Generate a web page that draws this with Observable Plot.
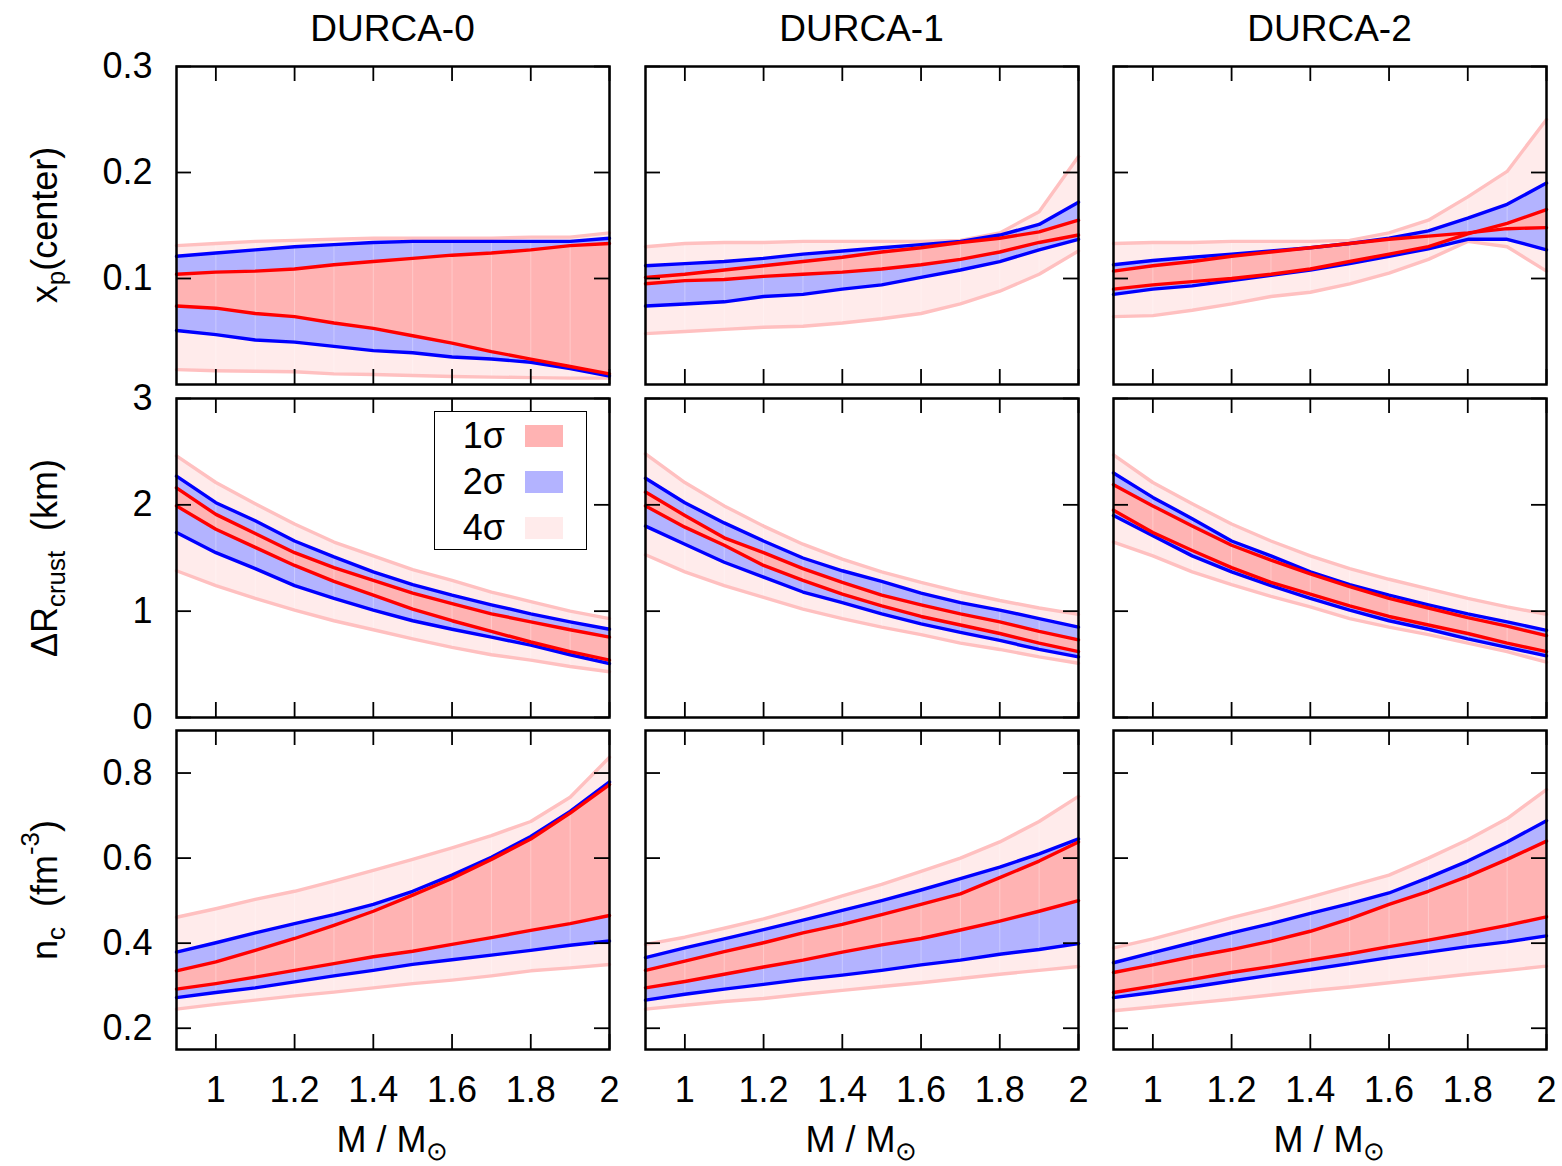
<!DOCTYPE html>
<html>
<head>
<meta charset="utf-8">
<script src="https://cdn.jsdelivr.net/npm/d3@7"></script>
<script src="https://cdn.jsdelivr.net/npm/@observablehq/plot@0.6"></script>
<style>
  html, body { margin: 0; padding: 0; background: #fff; }
  #fig { position: relative; width: 1562px; height: 1166px; overflow: hidden;
         font-family: "Liberation Sans", Arial, Helvetica, sans-serif; color: #000; }
  .panel { position: absolute; }
  .panel svg { overflow: visible; display: block; }
  .lbl { position: absolute; white-space: pre; line-height: 1; font-size: 36px;
         transform: translate(-50%, -50%); }
  .title { font-size: 37px; }
  .ylab { transform: translate(-50%, -50%) rotate(-90deg); }
  .lbl sub, .lbl sup { font-size: 0.72em; line-height: 0; }
  .lbl sub { vertical-align: -0.3em; }
  .lbl sup { vertical-align: 0.7em; }
  .legend { position: absolute; background: #fff; border: 1.5px solid #000; box-sizing: border-box; }
  .legend .t { position: absolute; font-size: 36px; line-height: 1; transform: translate(-100%, -50%); white-space: pre; }
  .legend .sw { position: absolute; }
</style>
</head>
<body>
<div id="fig"></div>
<script>
// Stellar mass grid (solar masses)
const mass = [0.9, 1.0, 1.1, 1.2, 1.3, 1.4, 1.5, 1.6, 1.7, 1.8, 1.9, 2.0];

// Model names and tick values
const models = ["DURCA-0", "DURCA-1", "DURCA-2"];
const massTicks = [1, 1.2, 1.4, 1.6, 1.8, 2];
const xpTicks = [0.1, 0.2, 0.3];
const drTicks = [0, 1, 2, 3];
const ncTicks = [0.2, 0.4, 0.6, 0.8];
const sigmaLabels = ["1σ", "2σ", "4σ"];

// Central proton fraction x_p, DURCA-0: 4σ / 2σ / 1σ bounds
const xp0_4hi = [0.131, 0.133, 0.135, 0.136, 0.137, 0.138, 0.138, 0.138, 0.138, 0.139, 0.139, 0.143];
const xp0_2hi = [0.121, 0.124, 0.127, 0.130, 0.132, 0.134, 0.135, 0.135, 0.135, 0.135, 0.135, 0.138];
const xp0_1hi = [0.104, 0.106, 0.107, 0.109, 0.113, 0.116, 0.119, 0.122, 0.124, 0.127, 0.131, 0.133];
const xp0_1lo = [0.074, 0.072, 0.067, 0.064, 0.058, 0.053, 0.046, 0.039, 0.031, 0.024, 0.017, 0.010];
const xp0_2lo = [0.051, 0.047, 0.042, 0.040, 0.036, 0.032, 0.030, 0.026, 0.024, 0.021, 0.015, 0.008];
const xp0_4lo = [0.014, 0.013, 0.0125, 0.012, 0.010, 0.0095, 0.0085, 0.0075, 0.007, 0.0065, 0.006, 0.006];

// x_p, DURCA-1
const xp1_4hi = [0.130, 0.133, 0.134, 0.134, 0.135, 0.135, 0.135, 0.135, 0.136, 0.143, 0.163, 0.215];
const xp1_2hi = [0.112, 0.114, 0.116, 0.119, 0.123, 0.126, 0.129, 0.132, 0.135, 0.141, 0.151, 0.172];
const xp1_1hi = [0.101, 0.104, 0.108, 0.112, 0.116, 0.120, 0.125, 0.129, 0.134, 0.138, 0.144, 0.155];
const xp1_1lo = [0.095, 0.098, 0.099, 0.102, 0.104, 0.106, 0.109, 0.113, 0.118, 0.125, 0.134, 0.141];
const xp1_2lo = [0.074, 0.076, 0.078, 0.083, 0.085, 0.090, 0.094, 0.101, 0.108, 0.116, 0.127, 0.137];
const xp1_4lo = [0.048, 0.050, 0.052, 0.054, 0.055, 0.058, 0.062, 0.067, 0.076, 0.088, 0.104, 0.126];

// x_p, DURCA-2
const xp2_4hi = [0.133, 0.134, 0.134, 0.135, 0.135, 0.135, 0.136, 0.143, 0.155, 0.177, 0.201, 0.250];
const xp2_2hi = [0.113, 0.117, 0.120, 0.123, 0.126, 0.129, 0.133, 0.138, 0.145, 0.157, 0.170, 0.190];
const xp2_1hi = [0.107, 0.112, 0.116, 0.121, 0.125, 0.129, 0.133, 0.137, 0.140, 0.143, 0.147, 0.148];
const xp2_1lo = [0.090, 0.094, 0.097, 0.100, 0.104, 0.109, 0.116, 0.123, 0.130, 0.142, 0.152, 0.165];
const xp2_2lo = [0.085, 0.090, 0.093, 0.098, 0.103, 0.108, 0.114, 0.121, 0.128, 0.137, 0.137, 0.127];
const xp2_4lo = [0.064, 0.065, 0.070, 0.076, 0.083, 0.087, 0.095, 0.105, 0.118, 0.135, 0.130, 0.107];

// Crust thickness ΔR_crust (km), DURCA-0
const dr0_4hi = [2.46, 2.21, 2.01, 1.82, 1.65, 1.52, 1.39, 1.29, 1.18, 1.09, 1.00, 0.93];
const dr0_2hi = [2.27, 2.02, 1.85, 1.66, 1.51, 1.37, 1.25, 1.15, 1.06, 0.975, 0.90, 0.83];
const dr0_1hi = [2.16, 1.91, 1.73, 1.55, 1.41, 1.29, 1.17, 1.07, 0.975, 0.90, 0.825, 0.756];
const dr0_1lo = [1.99, 1.77, 1.60, 1.43, 1.28, 1.15, 1.02, 0.91, 0.81, 0.71, 0.62, 0.54];
const dr0_2lo = [1.74, 1.55, 1.40, 1.24, 1.12, 1.01, 0.91, 0.83, 0.756, 0.68, 0.59, 0.506];
const dr0_4lo = [1.38, 1.24, 1.12, 1.01, 0.91, 0.825, 0.74, 0.66, 0.59, 0.54, 0.48, 0.43];

// ΔR_crust, DURCA-1
const dr1_4hi = [2.48, 2.21, 1.99, 1.80, 1.63, 1.49, 1.37, 1.27, 1.18, 1.10, 1.03, 0.97];
const dr1_2hi = [2.25, 2.02, 1.83, 1.66, 1.50, 1.38, 1.28, 1.17, 1.08, 1.01, 0.93, 0.85];
const dr1_1hi = [2.12, 1.90, 1.69, 1.55, 1.40, 1.27, 1.15, 1.06, 0.975, 0.90, 0.81, 0.73];
const dr1_1lo = [1.99, 1.79, 1.62, 1.43, 1.29, 1.16, 1.05, 0.95, 0.87, 0.79, 0.70, 0.62];
const dr1_2lo = [1.80, 1.63, 1.46, 1.32, 1.18, 1.08, 0.975, 0.88, 0.80, 0.725, 0.64, 0.57];
const dr1_4lo = [1.53, 1.37, 1.24, 1.13, 1.02, 0.93, 0.85, 0.78, 0.70, 0.64, 0.57, 0.51];

// ΔR_crust, DURCA-2
const dr2_4hi = [2.47, 2.21, 2.01, 1.82, 1.66, 1.52, 1.40, 1.30, 1.21, 1.12, 1.04, 0.97];
const dr2_2hi = [2.30, 2.07, 1.87, 1.66, 1.52, 1.37, 1.25, 1.15, 1.06, 0.975, 0.90, 0.82];
const dr2_1hi = [2.19, 1.99, 1.80, 1.62, 1.48, 1.35, 1.23, 1.12, 1.03, 0.94, 0.86, 0.77];
const dr2_1lo = [1.95, 1.74, 1.57, 1.41, 1.27, 1.16, 1.05, 0.95, 0.87, 0.79, 0.70, 0.62];
const dr2_2lo = [1.90, 1.71, 1.52, 1.37, 1.24, 1.12, 1.01, 0.91, 0.83, 0.74, 0.66, 0.58];
const dr2_4lo = [1.65, 1.52, 1.37, 1.25, 1.14, 1.04, 0.93, 0.85, 0.78, 0.70, 0.62, 0.52];

// Central baryon density n_c (fm^-3), DURCA-0
const nc0_4hi = [0.461, 0.481, 0.503, 0.522, 0.546, 0.571, 0.597, 0.624, 0.653, 0.686, 0.743, 0.837];
const nc0_2hi = [0.379, 0.401, 0.424, 0.446, 0.467, 0.491, 0.522, 0.560, 0.602, 0.651, 0.710, 0.779];
const nc0_1hi = [0.335, 0.356, 0.383, 0.411, 0.442, 0.475, 0.513, 0.552, 0.597, 0.645, 0.706, 0.773];
const nc0_1lo = [0.292, 0.305, 0.320, 0.336, 0.352, 0.368, 0.381, 0.397, 0.413, 0.430, 0.446, 0.465];
const nc0_2lo = [0.272, 0.284, 0.295, 0.309, 0.323, 0.336, 0.350, 0.361, 0.372, 0.383, 0.395, 0.405];
const nc0_4lo = [0.245, 0.256, 0.266, 0.276, 0.285, 0.295, 0.305, 0.313, 0.323, 0.335, 0.342, 0.350];

// n_c, DURCA-1
const nc1_4hi = [0.397, 0.414, 0.435, 0.457, 0.483, 0.511, 0.538, 0.569, 0.600, 0.638, 0.686, 0.745];
const nc1_2hi = [0.366, 0.389, 0.410, 0.432, 0.454, 0.477, 0.500, 0.525, 0.552, 0.579, 0.610, 0.645];
const nc1_1hi = [0.336, 0.358, 0.380, 0.401, 0.424, 0.444, 0.467, 0.491, 0.516, 0.554, 0.593, 0.638];
const nc1_1lo = [0.295, 0.310, 0.327, 0.344, 0.360, 0.379, 0.396, 0.411, 0.431, 0.452, 0.475, 0.500];
const nc1_2lo = [0.266, 0.280, 0.292, 0.303, 0.315, 0.325, 0.336, 0.349, 0.360, 0.374, 0.385, 0.399];
const nc1_4lo = [0.245, 0.254, 0.263, 0.270, 0.280, 0.289, 0.298, 0.307, 0.317, 0.327, 0.336, 0.345];

// n_c, DURCA-2
const nc2_4hi = [0.389, 0.410, 0.435, 0.460, 0.483, 0.508, 0.534, 0.560, 0.600, 0.643, 0.693, 0.761];
const nc2_2hi = [0.354, 0.378, 0.401, 0.424, 0.446, 0.470, 0.493, 0.518, 0.554, 0.593, 0.638, 0.688];
const nc2_1hi = [0.331, 0.349, 0.368, 0.385, 0.405, 0.428, 0.457, 0.491, 0.522, 0.557, 0.597, 0.640];
const nc2_1lo = [0.284, 0.299, 0.315, 0.331, 0.345, 0.360, 0.375, 0.392, 0.407, 0.424, 0.442, 0.462];
const nc2_2lo = [0.272, 0.284, 0.297, 0.311, 0.325, 0.338, 0.352, 0.366, 0.379, 0.392, 0.403, 0.417];
const nc2_4lo = [0.241, 0.250, 0.259, 0.268, 0.278, 0.288, 0.297, 0.307, 0.317, 0.327, 0.336, 0.346];

// ---- rows of the grid: one quantity per row, one model per column ----
const quantities = [
  { domain: [0, 0.3], ticks: xpTicks,
    label: 'x<sub>p</sub>(center)',
    bands: [[xp0_4lo, xp0_4hi, xp0_2lo, xp0_2hi, xp0_1lo, xp0_1hi],
            [xp1_4lo, xp1_4hi, xp1_2lo, xp1_2hi, xp1_1lo, xp1_1hi],
            [xp2_4lo, xp2_4hi, xp2_2lo, xp2_2hi, xp2_1lo, xp2_1hi]] },
  { domain: [0, 3], ticks: drTicks,
    label: '&Delta;R<sub>crust</sub>  (km)',
    bands: [[dr0_4lo, dr0_4hi, dr0_2lo, dr0_2hi, dr0_1lo, dr0_1hi],
            [dr1_4lo, dr1_4hi, dr1_2lo, dr1_2hi, dr1_1lo, dr1_1hi],
            [dr2_4lo, dr2_4hi, dr2_2lo, dr2_2hi, dr2_1lo, dr2_1hi]] },
  { domain: [0.15, 0.9], ticks: ncTicks,
    label: 'n<sub>c</sub>  (fm<sup>-3</sup>)',
    bands: [[nc0_4lo, nc0_4hi, nc0_2lo, nc0_2hi, nc0_1lo, nc0_1hi],
            [nc1_4lo, nc1_4hi, nc1_2lo, nc1_2hi, nc1_1lo, nc1_1hi],
            [nc2_4lo, nc2_4hi, nc2_2lo, nc2_2hi, nc2_1lo, nc2_1hi]] }
];

// ---- styling ----
const FILL = { s1: "#ffb3b3", s2: "#b3b3ff", s4: "#ffebeb" };
const LINE = { s1: "#ff0000", s2: "#0000ff", s4: "#ffc0c0" };
const LW = 3.4;
const FONT = '"Liberation Sans", Arial, Helvetica, sans-serif';
const colLeft = [176, 645, 1113];
const rowTop = [66, 398, 730];
const panelW = 433;
const panelH = [318, 319, 319];
const TICK = 15;

const fig = document.getElementById("fig");

function drawPanel(r, c) {
  const q = quantities[r];
  const [lo4, hi4, lo2, hi2, lo1, hi1] = q.bands[c];
  const rows = mass.map((m, i) => ({
    m, lo4: lo4[i], hi4: hi4[i], lo2: lo2[i], hi2: hi2[i], lo1: lo1[i], hi1: hi1[i]
  }));
  const W = panelW, H = panelH[r];
  const edge = (key, color) =>
    Plot.lineY(rows, { x: "m", y: key, stroke: color, strokeWidth: LW, strokeLinejoin: "round" });
  const marks = [
    // filled confidence regions, widest first
    Plot.areaY(rows, { x: "m", y1: "lo4", y2: "hi4", fill: FILL.s4 }),
    Plot.areaY(rows, { x: "m", y1: "lo2", y2: "hi2", fill: FILL.s2 }),
    Plot.areaY(rows, { x: "m", y1: "lo1", y2: "hi1", fill: FILL.s1 }),
    // faint seams between the filled segments at each mass node
    Plot.ruleX(rows.slice(1, -1), { x: "m", y1: "lo4", y2: "hi4", stroke: "#fff", strokeOpacity: 0.3, strokeWidth: 1 }),
    // band edges
    edge("lo4", LINE.s4), edge("hi4", LINE.s4),
    edge("lo2", LINE.s2), edge("hi2", LINE.s2),
    edge("lo1", LINE.s1), edge("hi1", LINE.s1),
    // inward ticks on all four sides
    Plot.tickX(massTicks, { x: d => d, insetTop: H - TICK, stroke: "#000", strokeWidth: 1.8 }),
    Plot.tickX(massTicks, { x: d => d, insetBottom: H - TICK, stroke: "#000", strokeWidth: 1.8 }),
    Plot.tickY(q.ticks, { y: d => d, insetRight: W - TICK, stroke: "#000", strokeWidth: 1.8 }),
    Plot.tickY(q.ticks, { y: d => d, insetLeft: W - TICK, stroke: "#000", strokeWidth: 1.8 }),
    Plot.frame({ stroke: "#000", strokeWidth: 2.5 })
  ];
  if (c === 0) {
    marks.push(Plot.text(q.ticks, {
      y: d => d, text: d => String(d), frameAnchor: "left", dx: -24,
      textAnchor: "end", fontSize: 36, fill: "#000"
    }));
  }
  if (r === quantities.length - 1) {
    marks.push(Plot.text(massTicks, {
      x: d => d, text: d => String(d), frameAnchor: "bottom", dy: 27,
      lineAnchor: "top", fontSize: 36, fill: "#000"
    }));
  }
  const svg = Plot.plot({
    width: W, height: H,
    marginTop: 0, marginRight: 0, marginBottom: 0, marginLeft: 0,
    x: { domain: [0.9, 2], axis: null },
    y: { domain: q.domain, axis: null },
    style: { fontFamily: FONT, overflow: "visible", background: "transparent" },
    marks
  });
  const holder = document.createElement("div");
  holder.className = "panel";
  holder.style.left = colLeft[c] + "px";
  holder.style.top = rowTop[r] + "px";
  holder.style.width = W + "px";
  holder.style.height = H + "px";
  holder.appendChild(svg);
  fig.appendChild(holder);
}

for (let r = 0; r < quantities.length; r++)
  for (let c = 0; c < models.length; c++) drawPanel(r, c);

function label(html, x, y, cls) {
  const d = document.createElement("div");
  d.className = "lbl" + (cls ? " " + cls : "");
  d.innerHTML = html;
  d.style.left = x + "px";
  d.style.top = y + "px";
  fig.appendChild(d);
}

// column titles and x-axis titles
models.forEach((name, c) => {
  const cx = colLeft[c] + panelW / 2;
  label(name, cx, 28, "title");
  label('M / M<sub>&#8857;</sub>', cx, 1140);
});

// y-axis titles
quantities.forEach((q, r) => {
  label(q.label, 45, rowTop[r] + panelH[r] / 2, "ylab");
});

// legend inside the ΔR_crust / DURCA-0 panel
const legend = document.createElement("div");
legend.className = "legend";
Object.assign(legend.style, { left: "434px", top: "411px", width: "153px", height: "139px" });
const swatches = [FILL.s1, FILL.s2, FILL.s4];
sigmaLabels.forEach((t, i) => {
  const cy = 24 + i * 46;
  const tx = document.createElement("div");
  tx.className = "t";
  tx.textContent = t;
  Object.assign(tx.style, { left: "70px", top: cy + "px" });
  legend.appendChild(tx);
  const sw = document.createElement("div");
  sw.className = "sw";
  Object.assign(sw.style, { left: "90px", top: (cy - 11) + "px", width: "38px", height: "22px", background: swatches[i] });
  legend.appendChild(sw);
});
fig.appendChild(legend);
</script>
</body>
</html>
